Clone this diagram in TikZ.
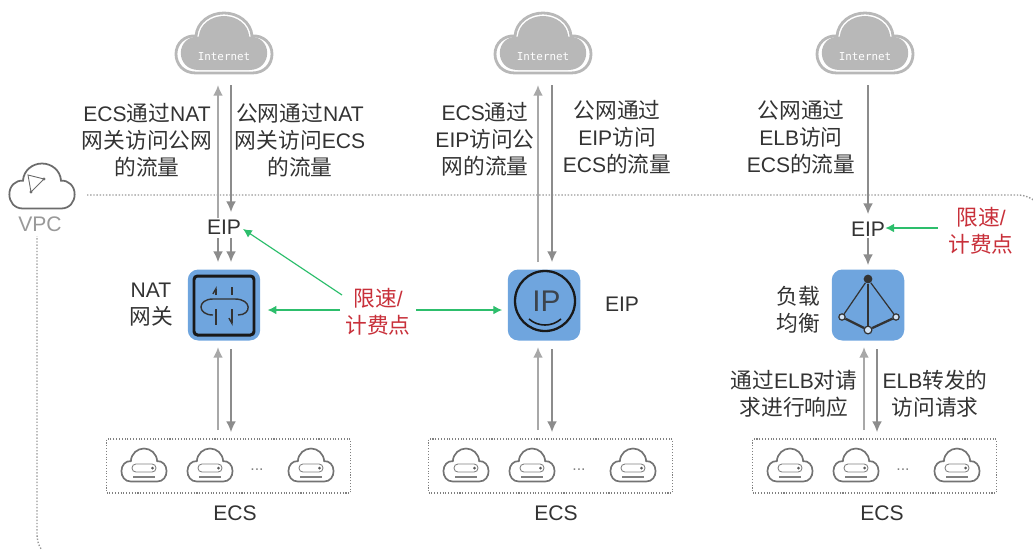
\documentclass[tikz,border=0pt]{standalone}
\usepackage{fontspec}
\setmainfont{Liberation Sans}
\newfontfamily\cjk[Scale=1.03]{Noto Sans CJK SC}
\newfontfamily\inetfont{DejaVu Sans Mono}
\usetikzlibrary{arrows.meta}
\newcommand{\zh}[1]{{\cjk #1}}
\newcommand{\cloudline}{(-28,30) .. controls (-41,30) and (-48,21) .. (-48,11) .. controls (-48,0) and (-39,-8) .. (-28,-7) .. controls (-27,-21) and (-14,-30) .. (0,-30) .. controls (14,-30) and (27,-21) .. (28,-7) .. controls (39,-8) and (48,0) .. (48,11) .. controls (48,21) and (41,30) .. (28,30) -- cycle}
\definecolor{boxblue}{HTML}{6FA5DE}
\definecolor{limitgreen}{HTML}{2DBE6C}
\definecolor{limitred}{HTML}{C8303A}
\definecolor{cloudgray}{HTML}{B8B8B8}
\definecolor{flowgray}{HTML}{8C8C8C}
\definecolor{flowlight}{HTML}{A8A8A8}
\definecolor{textdark}{HTML}{333333}
\tikzset{
  internet/.pic={
    \draw[cloudgray, line width=1.6pt] \cloudline;
    \fill[cloudgray, scale=0.9] \cloudline;
    \node[white, font=\inetfont\fontsize{6.2}{7}\selectfont] at (0,14) {Internet};
  },
  ecscloud/.pic={
    \draw[gray!90!black, line width=0.95pt, xscale=0.47, yscale=0.55] \cloudline;
    \draw[gray, line width=0.5pt, rounded corners=2.2pt] (-12,-1) rectangle (12,7);
    \fill[gray!70!black] (8.5,3) circle (1.5);
    \draw[gray, line width=0.7pt] (-11,12) -- (11,12);
  },
}
\begin{document}
\begin{tikzpicture}[x=0.02cm, y=-0.02cm, every node/.style={font=\fontsize{12}{15.3}\selectfont, text=textdark, align=center, inner sep=0pt},
  flowdown/.style={flowgray, line width=0.7pt, -{Latex[length=6pt,width=5.5pt]}},
  flowup/.style={flowlight, line width=1.1pt, -{Latex[length=6pt,width=5.5pt]}},
  limit/.style={limitgreen, line width=0.7pt, -{Latex[length=5pt,width=5pt]}},
  iconbox/.style={fill=boxblue, rounded corners=6pt, minimum width=1.45cm, minimum height=1.42cm},
  iconline/.style={textdark, line width=0.8pt},
  ecsgroup/.style={draw=gray, densely dotted, line width=0.6pt, minimum width=4.88cm, minimum height=1.08cm},
  limittext/.style={text=limitred}]
  \useasboundingbox (0,0) rectangle (1033,549);
  \clip (0,0) rectangle (1033,549);
  \draw[gray!80, densely dotted, line width=0.8pt, rounded corners=17pt] (87,195) -- (1047,195) -- (1047,564) -- (37,564) -- (37,236);
  \draw[gray!85!black, line width=1pt, shift={(42,186)}, xscale=0.68, yscale=0.75] \cloudline;
  \draw[gray!85!black, line width=0.5pt] (28,175) -- (44,179) -- (31,192) -- cycle;
  \fill[gray!85!black] (44,179) circle (1.6) (31,192) circle (1.6);
  \node[text=gray!80] (vpc) at (40,224) {VPC};

  \pic at (224,43) {internet};
  \pic at (543,43) {internet};
  \pic at (865,43) {internet};

  \node (eipa) at (224,227) {EIP};
  \node (eipc) at (868,229) {EIP};
  \node[iconbox] (nat) at (224,305) {};
  \node[iconbox] (eipb) at (544,305) {};
  \node[iconbox] (elb) at (868,305) {};
  \node (natname) at (151,305) {NAT\\\zh{网关}};
  \node (eipname) at (622,304) {EIP};
  \node (elbname) at (798,310) {\zh{负载}\\\zh{均衡}};

  \node (texta) at (147,140) {ECS\zh{通过}NAT\\\zh{网关访问公网}\\\zh{的流量}};
  \node (textb) at (300,140) {\zh{公网通过}NAT\\\zh{网关访问}ECS\\\zh{的流量}};
  \node (textc) at (485,139) {ECS\zh{通过}\\EIP\zh{访问公}\\\zh{网的流量}};
  \node (textd) at (617,137) {\zh{公网通过}\\EIP\zh{访问}\\ECS\zh{的流量}};
  \node (texte) at (801,137) {\zh{公网通过}\\ELB\zh{访问}\\ECS\zh{的流量}};
  \node (textf) at (794,394) {\zh{通过}ELB\zh{对请}\\\zh{求进行响应}};
  \node (textg) at (935,394) {ELB\zh{转发的}\\\zh{访问请求}};

  \node[limittext] (limitab) at (378,312) {\zh{限速}/\\\zh{计费点}};
  \node[limittext] (limitc) at (981,231) {\zh{限速}/\\\zh{计费点}};
  \coordinate (limitfrom) at (342,295);
  \coordinate (limitto) at (243,229);
  \coordinate (limitleft) at (340,310);
  \coordinate (limitright) at (416,310);
  \coordinate (limitc east) at (938,228);
  \draw[limit] (limitfrom) -- (limitto);
  \draw[limit, shorten >=4pt] (limitleft) -- (nat.east |- limitleft);
  \draw[limit, shorten >=3pt] (limitright) -- (eipb.west |- limitright);
  \draw[limit] (limitc east) -- (eipc.east |- limitc east);

  \coordinate (aup) at (218,85);
  \coordinate (adown) at (231,85);
  \coordinate (bup) at (538,85);
  \coordinate (bdown) at (552,85);
  \coordinate (cdown) at (868,85);
  \draw[flowup] (aup |- eipa.north) ++(0,-1) -- (aup);
  \draw[flowdown] (adown) -- (231,212);
  \draw[flowdown] (218,238) -- (218,262);
  \draw[flowdown] (231,238) -- (231,262);
  \draw[flowup] (bup |- eipb.north) ++(0,-7) -- (bup);
  \draw[flowdown] (bdown) -- (552,262);
  \draw[flowdown] (cdown) -- (868,214);
  \draw[flowdown] (eipc.south) ++(0,1) -- (868,265);

  \foreach \x/\y in {218/231, 538/552, 864/877} {
    \draw[flowup] (\x,430) -- (\x,347);
    \draw[flowdown] (\y,349) -- (\y,432);
  }
  \foreach \x/\y/\lab in {106/235/aecsname, 428/556/becsname, 752/882/cecsname} {
    \node[ecsgroup, anchor=west] at (\x,466) {};
    \pic at (\x+38,465) {ecscloud};
    \pic at (\x+104,465) {ecscloud};
    \pic at (\x+205,465) {ecscloud};
    \node[text=gray, font=\fontsize{9}{9}\selectfont] at (\x+151,470) {...};
    \node (\lab) at (\y,513) {ECS};
  }

  \draw[black!90, line width=1.7pt, rounded corners=2pt] (194,276) rectangle (254,335);
  \draw[iconline] (213,315) .. controls (197,315) and (197,299) .. (213,299) -- (235,299) .. controls (252,299) and (252,315) .. (238,315);
  \draw[iconline, -{Straight Barb[left,length=3pt,width=3.5pt]}] (216,295) -- (216,286);
  \draw[iconline] (232,295) -- (232,287);
  \draw[iconline] (216,309) -- (216,325);
  \draw[iconline, -{Straight Barb[right,length=3pt,width=3.5pt]}] (232,309) -- (232,326);

  \draw[black!90, line width=1.3pt] (545,301) circle (30);
  \node[font=\fontsize{17}{17}\selectfont, text=textdark!85!boxblue] (iptext) at (546.5,301.5) {IP};
  \draw[black!90, line width=0.9pt] (529,319) .. controls (538,327) and (552,327) .. (561,319);

  \node[circle, fill=textdark, minimum size=5pt] (lbtop) at (868,279) {};
  \node[circle, draw=textdark, fill=boxblue!30, line width=0.7pt, minimum size=3.6pt] (lbleft) at (842,317) {};
  \node[circle, draw=textdark, fill=boxblue!30, line width=0.7pt, minimum size=4.4pt] (lbmid) at (868,330) {};
  \node[circle, draw=textdark, fill=boxblue!30, line width=0.7pt, minimum size=3.6pt] (lbright) at (896,317) {};
  \draw[textdark, line width=0.7pt] (lbtop) -- (lbleft);
  \draw[textdark, line width=0.7pt] (lbtop) -- (lbright);
  \draw[textdark, line width=1.3pt] (lbtop) -- (lbmid);
  \draw[textdark, line width=1.3pt] (lbleft) -- (lbmid);
  \draw[textdark, line width=1.3pt] (lbmid) -- (lbright);
\end{tikzpicture}
\end{document}
